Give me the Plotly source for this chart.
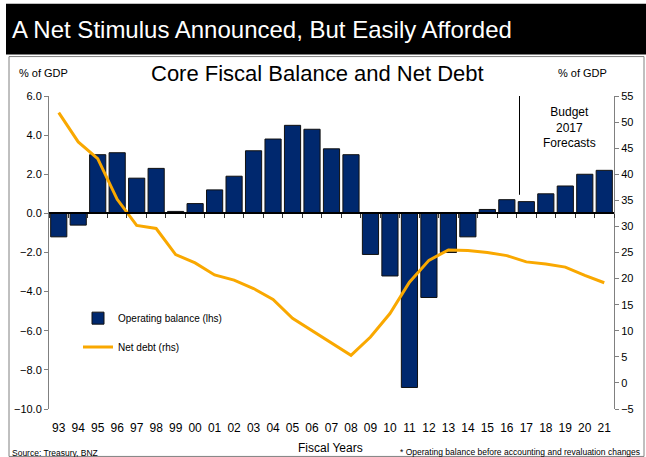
import plotly.graph_objects as go

years = ["93", "94", "95", "96", "97", "98", "99", "00", "01", "02", "03", "04", "05", "06", "07",
         "08", "09", "10", "11", "12", "13", "14", "15", "16", "17", "18", "19", "20", "21"]
operating_balance = [-1.2, -0.6, 3.0, 3.1, 1.8, 2.3, 0.1, 0.5, 1.2, 1.9, 3.2, 3.8, 4.5, 4.3, 3.3,
                     3.0, -2.1, -3.2, -8.9, -4.3, -2.0, -1.2, 0.2, 0.7, 0.6, 1.0, 1.4, 2.0, 2.2]
net_debt = [51.8, 46.2, 43.0, 35.2, 30.2, 29.6, 24.6, 23.0, 20.7, 19.7, 18.1, 16.0, 12.4, 10.0, 7.7,
            5.3, 8.8, 13.3, 19.3, 23.5, 25.5, 25.4, 25.0, 24.4, 23.2, 22.8, 22.2, 20.6, 19.2]
lhs_ticks = [6, 4, 2, 0, -2, -4, -6, -8, -10]
rhs_ticks = [55, 50, 45, 40, 35, 30, 25, 20, 15, 10, 5, 0, -5]

W, H = 646, 457
L, R, T, B = 49, 32, 95.5, 48
PW, PH = W - L - R, H - T - B
FONT = "Liberation Sans, Arial, sans-serif"


def px(x):
    return (x - L) / PW


def py(y):
    return (H - B - y) / PH


NAVY = "#00286E"
ORANGE = "#F9A800"

fig = go.Figure()
fig.add_trace(go.Bar(
    x=years, y=operating_balance, name="Operating balance (lhs)",
    marker=dict(color=NAVY, line=dict(color="#111111", width=1)),
    xaxis="x", yaxis="y", legend="legend",
))
fig.add_trace(go.Scatter(
    x=years, y=net_debt, name="Net debt (rhs)", mode="lines",
    line=dict(color=ORANGE, width=3),
    xaxis="x2", yaxis="y2", legend="legend2",
))

zero_frac = (0 - (-10)) / (6 - (-10))

fig.update_layout(
    width=W, height=H,
    margin=dict(l=L, r=R, t=T, b=B, pad=0, autoexpand=False),
    paper_bgcolor="white", plot_bgcolor="white",
    font=dict(family=FONT, size=11, color="black"),
    bargap=0.17,
    xaxis=dict(
        type="category", categoryarray=years, range=[-0.5, len(years) - 0.5],
        showline=False, ticks="", showgrid=False, zeroline=False,
        tickfont=dict(size=12), ticklabelstandoff=10, automargin=False,
        title=dict(text=""),
    ),
    xaxis2=dict(
        type="category", categoryarray=years, range=[-0.5, len(years) - 0.5],
        overlaying="x", anchor="free", position=zero_frac, automargin=False,
        showline=True, linecolor="black", linewidth=1.5,
        ticks="outside", tickson="boundaries", ticklen=4, tickcolor="#333333",
        showticklabels=False, showgrid=False, zeroline=False,
    ),
    yaxis=dict(
        range=[-10, 6], tickvals=lhs_ticks, tickformat=".1f", automargin=False,
        showline=True, linecolor="#808080", linewidth=1,
        ticks="outside", ticklen=4, tickcolor="#808080",
        showgrid=False, zeroline=False, tickfont=dict(size=11),
    ),
    yaxis2=dict(
        range=[-5, 55], tickvals=rhs_ticks, overlaying="y", side="right",
        anchor="free", position=1.0, automargin=False,
        showline=True, linecolor="#808080", linewidth=1,
        ticks="outside", ticklen=4, tickcolor="#808080",
        showgrid=False, zeroline=False, tickfont=dict(size=11),
    ),
    legend=dict(
        x=px(78), y=py(318), xanchor="left", yanchor="middle",
        bgcolor="rgba(0,0,0,0)", font=dict(size=10), itemwidth=30,
    ),
    legend2=dict(
        x=px(78), y=py(347), xanchor="left", yanchor="middle",
        bgcolor="rgba(0,0,0,0)", font=dict(size=10), itemwidth=30,
    ),
    showlegend=True,
)

shapes = [
    # title bar
    dict(type="rect", xref="paper", yref="paper", x0=px(6), x1=px(646), y0=py(3), y1=py(54),
         fillcolor="black", line=dict(width=0), layer="below"),
    # chart frame
    dict(type="rect", xref="paper", yref="paper", x0=px(9), x1=px(644), y0=py(56), y1=py(456.5),
         fillcolor="rgba(0,0,0,0)", line=dict(color="#808080", width=1), layer="below"),
    # forecast divider
    dict(type="line", xref="x", yref="y", x0=23.65, x1=23.65, y0=0.95, y1=6,
         line=dict(color="black", width=1)),
]
fig.update_layout(shapes=shapes)

annotations = [
    dict(text="A Net Stimulus Announced, But Easily Afforded", x=px(10), y=py(29),
         xanchor="left", yanchor="middle", font=dict(size=24, color="white")),
    dict(text="Core Fiscal Balance and Net Debt", x=px(317), y=py(73),
         xanchor="center", yanchor="middle", font=dict(size=22, color="black")),
    dict(text="% of GDP", x=px(17), y=py(72), xanchor="left", yanchor="middle",
         font=dict(size=11)),
    dict(text="% of GDP", x=px(582), y=py(72), xanchor="center", yanchor="middle",
         font=dict(size=11)),
    dict(text="Budget<br>2017<br>Forecasts", x=px(569), y=py(127), xanchor="center",
         yanchor="middle", font=dict(size=12)),
    dict(text="Fiscal Years", x=px(330), y=py(448), xanchor="center", yanchor="middle",
         font=dict(size=12)),
    dict(text="Source: Treasury, BNZ", x=px(10), y=py(453), xanchor="left", yanchor="middle",
         font=dict(size=8.5)),
    dict(text="* Operating balance before accounting and revaluation changes", x=px(642),
         y=py(452), xanchor="right", yanchor="middle", font=dict(size=8.5)),
]
for a in annotations:
    a.update(xref="paper", yref="paper", showarrow=False)
fig.update_layout(annotations=annotations)

fig.write_html("out.html")
